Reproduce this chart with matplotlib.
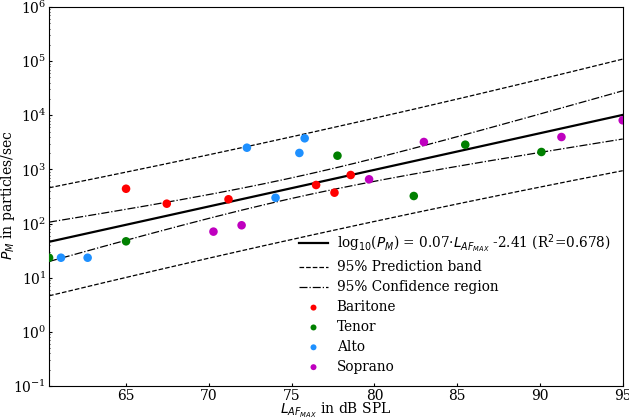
import numpy as np
import matplotlib
matplotlib.use("Agg")
import matplotlib.pyplot as plt

# Data (L_AFMAX in dB SPL, P_M in particles/sec)
baritone_x = [65.0, 67.46, 71.19, 76.48, 77.59, 78.57]
baritone_y = [440, 233, 281, 516, 372, 789]
tenor_x = [60.35, 65.0, 77.77, 82.38, 85.49, 90.09]
tenor_y = [23.4, 47, 1794, 323, 2866, 2100]
alto_x = [61.07, 62.68, 72.30, 74.03, 75.47, 75.79]
alto_y = [23.4, 23.4, 2520, 300, 2015, 3760]
soprano_x = [70.28, 71.98, 79.68, 82.99, 91.30, 95.0]
soprano_y = [71, 93, 657, 3213, 3970, 8090]

groups = [("Baritone", baritone_x, baritone_y, "red"),
          ("Tenor", tenor_x, tenor_y, "green"),
          ("Alto", alto_x, alto_y, "#1e90ff"),
          ("Soprano", soprano_x, soprano_y, "m")]

fit_label = r"log$_{10}$($P_M$) = 0.07$\cdot$$L_{AF_{MAX}}$ -2.41 (R$^2$=0.678)"

plt.rcParams["font.family"] = "DejaVu Serif"
plt.rcParams["mathtext.fontset"] = "dejavusans"
plt.rcParams["font.size"] = 10

x_all = np.array(baritone_x + tenor_x + alto_x + soprano_x)
y_all = np.log10(np.array(baritone_y + tenor_y + alto_y + soprano_y))
n = len(x_all)
slope, intercept = np.polyfit(x_all, y_all, 1)
resid = y_all - (slope * x_all + intercept)
s = np.sqrt(np.sum(resid ** 2) / (n - 2))
xm = x_all.mean()
sxx = np.sum((x_all - xm) ** 2)
t = 2.074  # t(0.975, 22)

xs = np.linspace(x_all.min(), x_all.max(), 200)
yfit = slope * xs + intercept
conf = t * s * np.sqrt(1.0 / n + (xs - xm) ** 2 / sxx)
pred = t * s * np.sqrt(1 + 1.0 / n + (xs - xm) ** 2 / sxx)

fig = plt.figure(figsize=(6.29, 4.18), dpi=100)
ax = fig.add_axes([0.078, 0.0766, 0.912, 0.9066])

ax.plot(xs, 10 ** yfit, color="black", lw=1.6, label=fit_label)
ax.plot(xs, 10 ** (yfit + pred), color="black", lw=0.9, ls="--", label="95% Prediction band")
ax.plot(xs, 10 ** (yfit - pred), color="black", lw=0.9, ls="--")
ax.plot(xs, 10 ** (yfit + conf), color="black", lw=0.9, ls="-.", label="95% Confidence region")
ax.plot(xs, 10 ** (yfit - conf), color="black", lw=0.9, ls="-.")

for name, gx, gy, c in groups:
    ax.scatter(gx, gy, s=38, color=c, label=name, zorder=3, edgecolors="none")

ax.set_yscale("log")
ax.set_xlim(x_all.min(), x_all.max())
ax.set_ylim(1e-1, 1e6)
ax.set_xticks([65, 70, 75, 80, 85, 90, 95])
ax.tick_params(which="both", direction="in", length=2, pad=2)
ax.tick_params(which="minor", length=1)
ax.set_xlabel(r"$L_{AF_{MAX}}$ in dB SPL", labelpad=-1)
ax.set_ylabel(r"$P_M$ in particles/sec")
ax.yaxis.set_label_coords(-0.0565, 0.505)

leg = ax.legend(loc="lower right", frameon=False, fontsize=9.8, handlelength=2.1,
                handletextpad=0.65, labelspacing=0.43, borderaxespad=0.5,
                markerscale=0.7)

fig.savefig("out.png", dpi=100)
